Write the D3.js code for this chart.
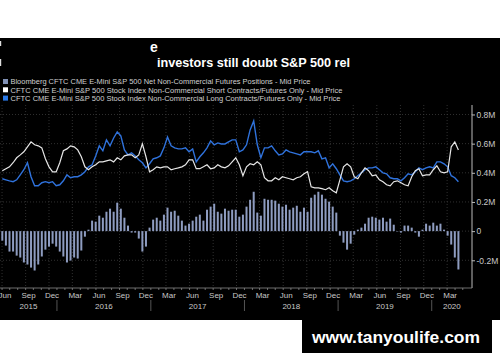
<!DOCTYPE html>
<html>
<head>
<meta charset="utf-8">
<script src="https://cdn.jsdelivr.net/npm/d3@7"></script>
<style>
body { margin: 0; background: #fff; }
svg { display: block; }
</style>
</head>
<body>
<div id="chart"></div>
<script>
// valori, in migliaia di contratti, ogni 2 settimane da giugno 2015
var settimane = d3.range(128).map(function(i) { return d3.timeDay.offset(new Date(2015, 5, 2), i * 14); });

var corti = [414,428,441,469,503,523,544,578,612,592,
  585,571,496,441,407,407,469,551,564,585,
  578,557,510,441,421,441,455,475,475,482,
  489,475,503,489,516,523,523,503,523,598,
  510,407,421,441,434,441,441,421,428,434,
  441,455,489,489,428,428,441,455,428,434,
  455,441,434,448,475,503,455,380,441,462,
  455,475,455,366,345,345,366,352,373,366,
  359,352,366,373,393,407,304,297,297,291,
  284,297,277,263,352,441,462,441,373,359,
  400,434,414,380,386,352,339,318,311,339,
  345,332,318,311,373,414,428,380,386,386,
  421,448,407,400,407,578,612,557];

var lunghi = [359,352,345,339,352,386,421,469,373,311,
  311,332,339,332,339,311,318,345,386,366,
  373,373,386,407,441,455,516,585,551,626,
  585,639,681,653,557,523,537,516,489,469,
  434,462,496,503,516,571,646,585,571,564,
  564,571,544,564,475,510,537,571,619,592,
  605,598,598,612,626,626,544,557,592,694,
  756,592,503,571,571,585,551,523,530,557,
  544,537,530,523,544,544,544,537,551,496,
  503,434,462,428,386,345,339,345,359,380,
  400,421,434,434,441,421,400,393,366,359,
  359,345,366,393,386,407,434,421,434,441,
  434,475,475,462,441,380,366,339];

var netto = [-65,-99,-140,-140,-168,-181,-215,-229,-250,-270,
  -229,-174,-127,-106,-86,-106,-140,-174,-215,-202,
  -181,-188,-133,-38,10,72,65,106,92,133,
  154,133,195,154,92,38,-10,-10,-51,-140,
  -106,24,79,92,72,113,161,133,140,106,
  72,38,51,72,99,113,72,147,168,188,
  133,120,154,140,147,147,99,113,168,215,
  270,127,106,222,215,215,209,188,168,181,
  147,161,174,133,161,133,229,250,270,250,
  222,202,168,127,-31,-79,-127,-86,-24,10,
  24,51,92,99,92,79,92,65,86,44,
  -3,-10,38,38,24,-10,-38,10,51,38,
  58,38,51,10,-31,-92,-181,-263];

var tick_y = [-200, 0, 200, 400, 600, 800];
var legenda = [
  "Bloomberg CFTC CME E-Mini S&P 500 Net Non-Commercial Futures Positions - Mid Price",
  "CFTC CME E-Mini S&P 500 Stock Index Non-Commercial Short Contracts/Futures Only - Mid Price",
  "CFTC CME E-Mini S&P 500 Stock Index Non-Commercial Long Contracts/Futures Only - Mid Price"
];
var colori_legenda = ["#8090b4", "#ffffff", "#2a78e4"];
var titolo = "investors still doubt S&P 500 rel";
var sito = "www.tanyoulife.com";

var larghezza = 500, altezza = 362;
var destra = 472, alto = 105, basso = 288;

var x = d3.scaleTime()
  .domain([new Date(2015, 4, 24), new Date(2020, 5, 6)])
  .range([0, destra]);
var y = d3.scaleLinear()
  .domain([-390, 865])
  .range([basso, alto]);

var svg = d3.select("#chart").append("svg")
  .attr("width", larghezza)
  .attr("height", altezza)
  .style("font-family", "'Liberation Sans', Arial, sans-serif");

svg.append("rect").attr("width", larghezza).attr("height", altezza).attr("fill", "#fff");
svg.append("rect").attr("y", 38).attr("width", larghezza).attr("height", 282).attr("fill", "#000");

// titolo (in parte nascosto nell'originale)
svg.append("rect").attr("x", 0).attr("y", 41).attr("width", 1.2).attr("height", 5).attr("fill", "#ddd");
svg.append("rect").attr("x", 0).attr("y", 59).attr("width", 1.2).attr("height", 7).attr("fill", "#ddd");
svg.append("text").attr("x", 150).attr("y", 52)
  .attr("fill", "#fff").style("font-size", "14px").style("font-weight", "bold")
  .text("e");
svg.append("text").attr("x", 157).attr("y", 67)
  .attr("fill", "#fff").style("font-size", "13px").style("font-weight", "bold")
  .attr("textLength", 193).attr("lengthAdjust", "spacingAndGlyphs")
  .text(titolo);

// legenda
var lunghezze = [300, 332, 330];
legenda.forEach(function(t, i) {
  svg.append("rect").attr("x", 3).attr("y", 79 + i * 8.3).attr("width", 5).attr("height", 5)
    .attr("fill", colori_legenda[i]);
  svg.append("text").attr("x", 10.5).attr("y", 84.3 + i * 8.3)
    .attr("fill", "#d0d0d0").style("font-size", "7.2px")
    .attr("textLength", lunghezze[i]).attr("lengthAdjust", "spacingAndGlyphs")
    .text(t);
});

// griglia
var trimestri = d3.timeMonth.range(new Date(2015, 5, 1), new Date(2020, 4, 1))
  .filter(function(d) { return d.getMonth() % 3 === 2; });
svg.append("g").selectAll("line").data(trimestri).enter().append("line")
  .attr("x1", function(d) { return x(d); }).attr("x2", function(d) { return x(d); })
  .attr("y1", alto).attr("y2", basso)
  .attr("stroke", "#3c3c3c").attr("stroke-width", 0.8).attr("stroke-dasharray", "1,2");
svg.append("g").selectAll("line").data(tick_y).enter().append("line")
  .attr("x1", 0).attr("x2", destra)
  .attr("y1", function(d) { return y(d); }).attr("y2", function(d) { return y(d); })
  .attr("stroke", "#3c3c3c").attr("stroke-width", 0.8).attr("stroke-dasharray", "1,2");

svg.append("clipPath").attr("id", "area").append("rect")
  .attr("x", 0).attr("y", alto - 5).attr("width", destra).attr("height", basso - alto + 5);
var piano = svg.append("g").attr("clip-path", "url(#area)");

// barre della posizione netta
piano.selectAll("rect.barra").data(netto).enter().append("rect")
  .attr("class", "barra")
  .attr("x", function(d, i) { return x(settimane[i]) - 1; })
  .attr("width", 2)
  .attr("y", function(d) { return y(Math.max(0, d)); })
  .attr("height", function(d) { return Math.abs(y(d) - y(0)); })
  .attr("fill", "#8e9cc0");

var linea = function(serie) {
  return d3.line()
    .x(function(d, i) { return x(settimane[i]); })
    .y(function(d) { return y(d); })(serie);
};
piano.append("path").attr("d", linea(lunghi))
  .attr("fill", "none").attr("stroke", "#2f72dc").attr("stroke-width", 1.4);
piano.append("path").attr("d", linea(corti))
  .attr("fill", "none").attr("stroke", "#e6e6e6").attr("stroke-width", 1.2);

// asse destro
var asseY = d3.axisRight(y).tickValues(tick_y).tickSize(3)
  .tickFormat(function(d) { return d === 0 ? "0" : (d / 1000) + "M"; });
var gy = svg.append("g").attr("transform", "translate(" + destra + ",0)").call(asseY);
gy.select(".domain").attr("d", "M0," + alto + "V" + basso).attr("stroke", "#bbb");
gy.selectAll(".tick line").attr("stroke", "#bbb");
gy.selectAll(".tick text").attr("fill", "#c8c8c8").attr("x", 4.5)
  .style("font-size", "8.5px").style("font-family", "'Liberation Sans', Arial, sans-serif");

// asse in basso
svg.append("line").attr("x1", 0).attr("x2", destra).attr("y1", basso).attr("y2", basso)
  .attr("stroke", "#888").attr("stroke-width", 0.8);
var mesi = d3.timeMonth.range(new Date(2015, 5, 1), new Date(2020, 5, 1));
svg.append("g").selectAll("line").data(mesi).enter().append("line")
  .attr("x1", function(d) { return x(d); }).attr("x2", function(d) { return x(d); })
  .attr("y1", basso).attr("y2", basso + 2)
  .attr("stroke", "#888").attr("stroke-width", 0.8);
var formato = d3.timeFormat("%b");
svg.append("g").selectAll("text").data(trimestri).enter().append("text")
  .attr("x", function(d) { return x(d) + 3; }).attr("y", 298)
  .attr("text-anchor", "middle").attr("fill", "#c8c8c8").style("font-size", "8px")
  .text(function(d) { return formato(d); });

var anni = [2015, 2016, 2017, 2018, 2019, 2020];
svg.append("g").selectAll("line").data(anni.slice(1)).enter().append("line")
  .attr("x1", function(d) { return x(new Date(d, 0, 1)); })
  .attr("x2", function(d) { return x(new Date(d, 0, 1)); })
  .attr("y1", 300).attr("y2", 311).attr("stroke", "#555");
svg.append("g").selectAll("text").data(anni).enter().append("text")
  .attr("x", function(d) {
    var a = Math.max(0, x(new Date(d, 0, 1)));
    var b = Math.min(destra, x(new Date(d + 1, 0, 1)));
    return (a + b) / 2;
  })
  .attr("y", 309).attr("text-anchor", "middle").attr("fill", "#c8c8c8").style("font-size", "8px")
  .text(function(d) { return d; });

// marchio in basso a destra
svg.append("rect").attr("x", 302).attr("y", 320).attr("width", 190).attr("height", 33).attr("fill", "#000");
svg.append("text").attr("x", 312).attr("y", 343)
  .attr("fill", "#fff").style("font-size", "16px").style("font-weight", "bold")
  .attr("textLength", 168).attr("lengthAdjust", "spacingAndGlyphs")
  .text(sito);
</script>
</body>
</html>
